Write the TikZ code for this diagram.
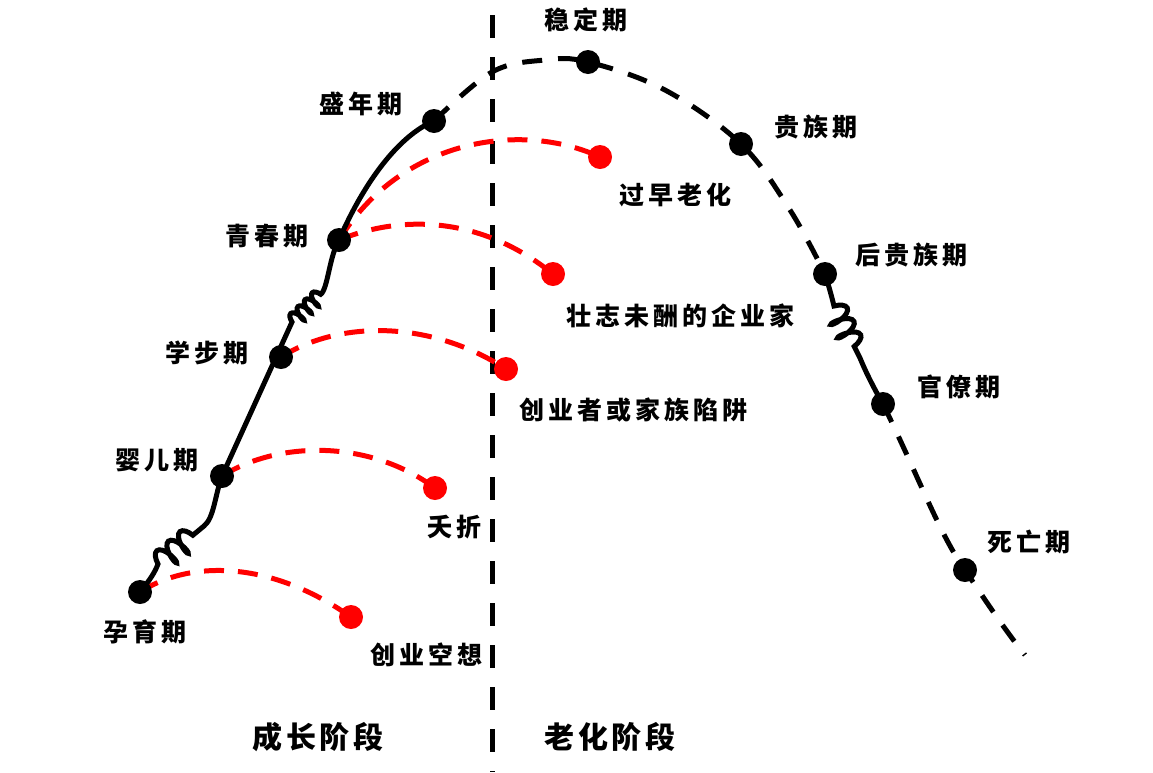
\documentclass[tikz,border=0pt]{standalone}
\usepackage{fontspec}
\newfontfamily\cjk[LetterSpace=16]{Noto Sans CJK SC}
\newfontfamily\cjkbig[LetterSpace=13]{Noto Sans CJK SC}
\usetikzlibrary{decorations.pathmorphing}
\begin{document}
\begin{tikzpicture}[x=1pt,y=-1pt,
 lbl/.style={font=\cjk\bfseries\fontsize{25}{25}\selectfont, inner sep=0},
 big/.style={font=\cjkbig\bfseries\fontsize{30}{30}\selectfont, inner sep=0},
 bdot/.style={circle,fill=black,minimum size=24pt,inner sep=0},
 rdot/.style={circle,fill=red,minimum size=24pt,inner sep=0},
 bline/.style={line width=5pt, black},
 bdash/.style={bline, dash pattern=on 20pt off 16pt},
 rdash/.style={line width=5pt, red, dash pattern=on 20pt off 14pt},
 coilA/.style={decorate, decoration={coil,aspect=0.35,amplitude=11pt,segment length=15pt}},
 coilB/.style={decorate, decoration={coil,aspect=0.35,amplitude=7pt,segment length=10pt}},
]
\useasboundingbox (0,0) rectangle (1153,772);
% main stage points
\coordinate (yun) at (140,592);
\coordinate (ying) at (222,476);
\coordinate (xue) at (281,357);
\coordinate (qing) at (339,240);
\coordinate (sheng) at (434,121);
\coordinate (wen) at (588,62);
\coordinate (gui) at (741,144);
\coordinate (hou) at (825,274);
\coordinate (guan) at (883,404);
\coordinate (si) at (965,570);
\coordinate (fin) at (1025,655);
% red end points
\coordinate (r1) at (351,617);
\coordinate (r2) at (435,488);
\coordinate (r3) at (506,369);
\coordinate (r4) at (553,274);
\coordinate (r5) at (600,157);
% coil ends
\coordinate (k1a) at (158,564);
\coordinate (k1b) at (204,526);
\coordinate (k2a) at (292,322);
\coordinate (k2b) at (322,293);
\coordinate (k3a) at (834,306);
\coordinate (k3b) at (860,358);
% dividing line
\coordinate (vt) at (492,15);
\coordinate (vb) at (492,772);
\draw[line width=5pt, dash pattern=on 23pt off 19pt] (vt) -- (vb);
% red failure paths
\draw[rdash] (yun) .. controls (190,560) and (270,560) .. (r1);
\draw[rdash] (ying) .. controls (280,440) and (370,440) .. (r2);
\draw[rdash] (xue) .. controls (340,320) and (430,320) .. (r3);
\draw[rdash] (qing) .. controls (400,215) and (480,215) .. (r4);
\draw[rdash] (qing) .. controls (400,140) and (520,120) .. (r5);
% black life-cycle curve
\draw[bline] (yun) .. controls (150,580) and (155,572) .. (k1a)
  decorate[coilA]{-- (k1b)} .. controls (214,518) and (215,495) .. (ying)
  -- (k2a) decorate[coilB]{-- (k2b)} .. controls (328,285) and (330,255) .. (qing)
  .. controls (365,180) and (400,135) .. (sheng);
\draw[bdash] plot[smooth, tension=0.6] coordinates {(sheng) (492,72) (545,60) (wen) (665,90) (gui) (790,210) (hou)};
\draw[bline] (hou) .. controls (830,290) and (832,298) .. (k3a)
  decorate[coilA]{-- (k3b)} .. controls (867,375) and (875,390) .. (guan);
\draw[bdash] (guan) .. controls (920,480) and (940,535) .. (si) .. controls (985,600) and (1005,630) .. (fin);
% dots
\foreach \p in {yun,ying,xue,qing,sheng,wen,gui,hou,guan,si} \node[bdot] (\p D) at (\p) {};
\foreach \p in {r1,r2,r3,r4,r5} \node[rdot] (\p D) at (\p) {};
% labels
\node[lbl] (tyun) at (145,632) {孕育期};
\node[lbl] (tying) at (157,460) {婴儿期};
\node[lbl] (txue) at (207,353) {学步期};
\node[lbl] (tqing) at (267,236) {青春期};
\node[lbl] (tsheng) at (361,104) {盛年期};
\node[lbl] (twen) at (586,20) {稳定期};
\node[lbl] (tgui) at (816,127) {贵族期};
\node[lbl] (thou) at (911,255) {后贵族期};
\node[lbl] (tguan) at (959,387) {官僚期};
\node[lbl] (tsi) at (1029,542) {死亡期};
\node[lbl] (t1) at (426,655) {创业空想};
\node[lbl] (t2) at (454,527) {夭折};
\node[lbl] (t3) at (633,410) {创业者或家族陷阱};
\node[lbl] (t4) at (680,316) {壮志未酬的企业家};
\node[lbl] (t5) at (675,195) {过早老化};
\node[big] (g) at (318,737) {成长阶段};
\node[big] (a) at (610,737) {老化阶段};
\end{tikzpicture}
\end{document}
